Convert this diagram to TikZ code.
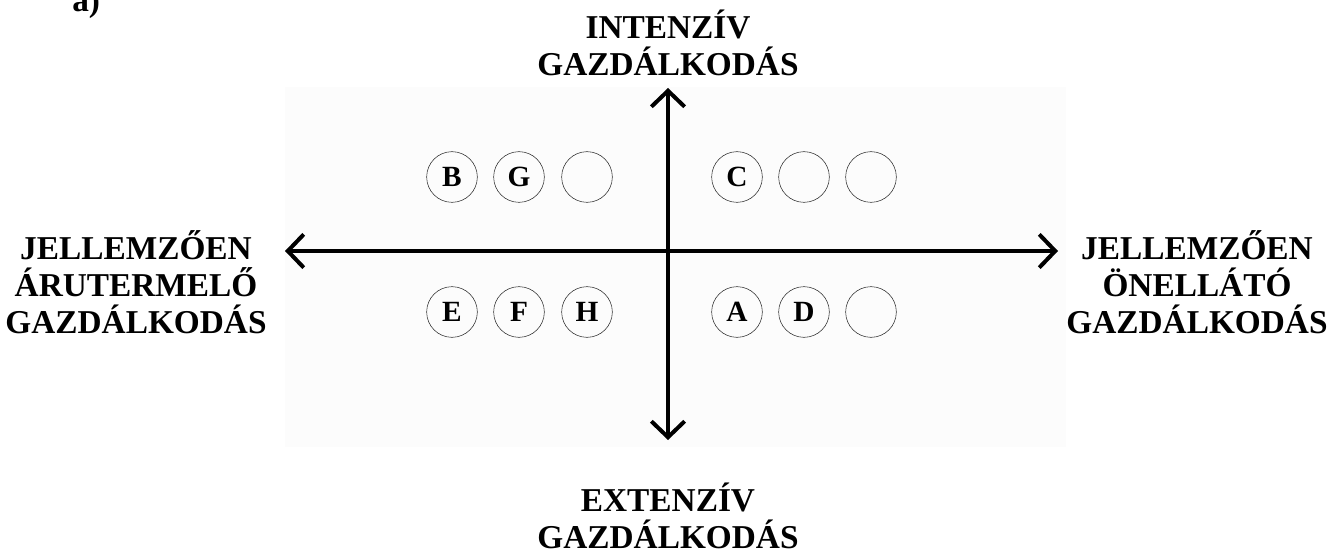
\documentclass[tikz,border=0pt]{standalone}
\usepackage{fontspec}
\setmainfont{Liberation Serif}
\usepackage{tikz}
\usetikzlibrary{arrows.meta}
\tikzstyle{axis} = [line width=3pt, {Straight Barb[length=12pt,width=25pt]}-{Straight Barb[length=12pt,width=25pt]}]
\tikzstyle{farm} = [draw=black!85, circle, thin, minimum size=38pt, inner sep=0pt,
    font=\fontsize{22}{22}\selectfont\bfseries]
\tikzstyle{axislabel} = [align=center, inner sep=0pt,
    font=\fontsize{25}{27.75}\selectfont\bfseries]

\begin{document}
\begin{tikzpicture}[x=0.75pt, y=-0.75pt]
    \useasboundingbox (0,0) rectangle (1332,556);
    \fill[black!1] (285,87) rectangle (1066,447);
    \node[anchor=base west, inner sep=0pt, font=\fontsize{25}{25}\selectfont\bfseries] (part) at (72,12) {a)};
    % the two axes
    \coordinate (north) at (668,88);
    \coordinate (south) at (668,440);
    \coordinate (west) at (285,251);
    \coordinate (east) at (1058,251);
    \draw[axis] (west) -- (east);
    \draw[axis] (south) -- (north);
    \node[axislabel] (intensive) at (668,43) {INTENZÍV\\GAZDÁLKODÁS};
    \node[axislabel] (extensive) at (668,516) {EXTENZÍV\\GAZDÁLKODÁS};
    \node[axislabel] (market) at (136,282) {JELLEMZŐEN\\ÁRUTERMELŐ\\GAZDÁLKODÁS};
    \node[axislabel] (selfsupp) at (1197,282) {JELLEMZŐEN\\ÖNELLÁTÓ\\GAZDÁLKODÁS};
    % farms
    \node[farm] (B) at (452,177) {B};
    \node[farm] (G) at (519,177) {G};
    \node[farm] (nw3) at (587,177) {};
    \node[farm] (C) at (737,177) {C};
    \node[farm] (ne2) at (804,177) {};
    \node[farm] (ne3) at (871,177) {};
    \node[farm] (E) at (452,312) {E};
    \node[farm] (F) at (519,312) {F};
    \node[farm] (H) at (587,312) {H};
    \node[farm] (A) at (737,312) {A};
    \node[farm] (D) at (804,312) {D};
    \node[farm] (se3) at (871,312) {};
\end{tikzpicture}
\end{document}
